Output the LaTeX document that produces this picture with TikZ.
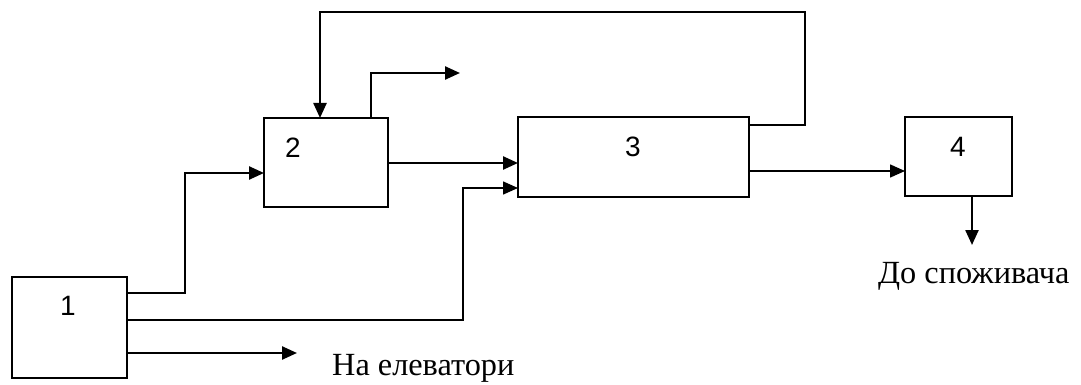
\documentclass[tikz,border=0pt]{standalone}
\usepackage{fontspec}
\setmainfont{Liberation Serif}
\newfontfamily\digitfont{Liberation Sans}
\usetikzlibrary{arrows.meta}
\begin{document}
\begin{tikzpicture}[x=1pt,y=-1pt,
  blk/.style={draw, line width=2.8pt, inner sep=0pt, outer sep=0pt},
  num/.style={inner sep=0pt, font=\digitfont\fontsize{28}{30}\selectfont},
  lbl/.style={inner sep=0pt, font=\fontsize{32.3}{36}\selectfont},
  tip/.style={-{Triangle[length=15pt,width=13pt]}},
  flow/.style={tip, line width=2.4pt},
  flowthin/.style={tip, line width=1.5pt}]
\useasboundingbox (0,0) rectangle (1081,385);
% boxes
\node[blk, minimum width=115pt, minimum height=101pt] (b1) at (69.5,327.5) {};
\node[blk, minimum width=124pt, minimum height=89pt] (b2) at (326,162.5) {};
\node[blk, minimum width=231pt, minimum height=80pt] (b3) at (633.5,157) {};
\node[blk, minimum width=107pt, minimum height=79pt] (b4) at (958.5,156.5) {};
% box numbers
\node[num] (n1) at (68,306) {1};
\node[num] (n2) at (293,148) {2};
\node[num] (n3) at (633,147) {3};
\node[num] (n4) at (958,147) {4};
% texts
\node[lbl, anchor=base west] (t1) at (332,375) {На елеватори};
\node[lbl, anchor=base west] (t2) at (878,283) {До споживача};
% free ends
\coordinate (o1) at (297,353);
\coordinate (o2) at (460,73);
\coordinate (o4) at (972,245);
% connectors
\draw[flow] (b1.east |- 0,293) -- (185,293) -- (185,173) -- (b2.west |- 0,173);
\draw[flowthin] (b1.east |- 0,320) -- (463,320) -- (463,188) -- (b3.west |- 0,188);
\draw[flow] (b1.east |- o1) -- (o1);
\draw[flow] (b2.east |- 0,163) -- (b3.west |- 0,163);
\draw[flow] (b2.north -| 371,0) -- (371,73) -- (o2);
\draw[flow] (b3.east |- 0,125) -- (805,125) -- (805,12) -- (320,12) -- (b2.north -| 320,0);
\draw[flowthin] (b3.east |- 0,171) -- (b4.west |- 0,171);
\draw[flow] (b4.south -| o4) -- (o4);
\end{tikzpicture}
\end{document}
